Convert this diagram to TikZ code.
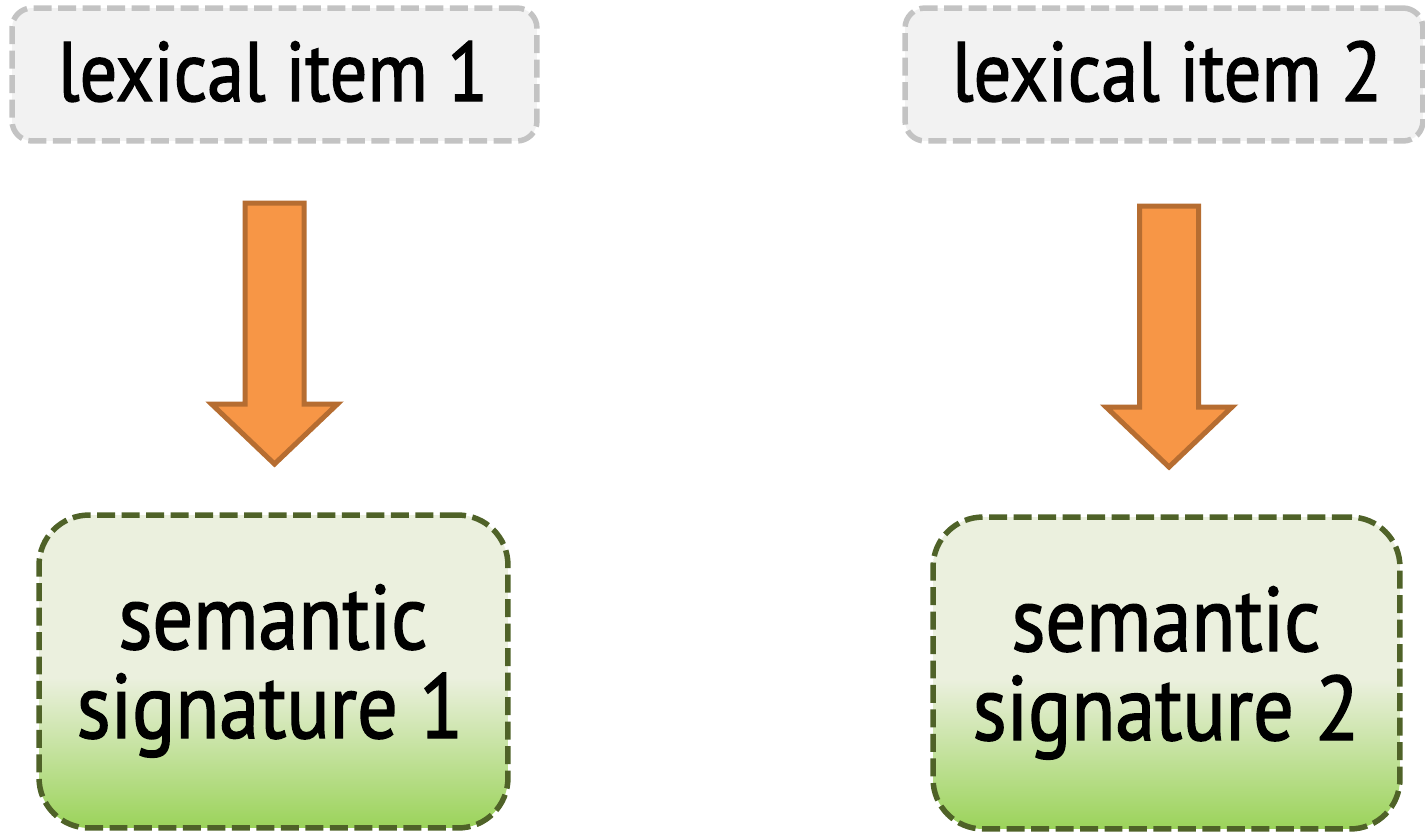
\documentclass[tikz,border=0pt]{standalone}
\usepackage{fontspec}
\setmainfont{PT Sans}[FakeStretch=0.88, FakeBold=1.6]
\usetikzlibrary{calc}
\definecolor{itemline}{HTML}{C3C3C3}
\definecolor{itemfill}{HTML}{F2F2F2}
\definecolor{arrowfill}{HTML}{F79646}
\definecolor{arrowline}{HTML}{B66D31}
\definecolor{sigline}{HTML}{4F6228}
\definecolor{sigtop}{HTML}{EBF0DE}
\definecolor{sigbot}{HTML}{9BD35A}
% light top half, green fade toward the bottom edge
\pgfdeclareverticalshading{sigfade}{100bp}{color(0bp)=(sigbot); color(25bp)=(sigbot); color(49bp)=(sigtop); color(100bp)=(sigtop)}
\tikzset{
  itembox/.style={draw=itemline, fill=itemfill, line width=0.11cm,
    dash pattern=on 0.36cm off 0.13cm, rounded corners=0.4cm,
    inner sep=0pt, minimum height=2.66cm},
  itemtext/.style={font=\fontsize{48}{58}\selectfont, anchor=base, inner sep=0pt},
  sigbox/.style={draw=sigline, shading=sigfade, line width=0.11cm,
    dash pattern=on 0.36cm off 0.13cm, rounded corners=1cm, inner sep=0pt},
  sigtext/.style={font=\fontsize{52}{50}\selectfont, anchor=base, inner sep=0pt},
  blockarrow/.style={fill=arrowfill, draw=arrowline, line width=0.1cm, line join=miter}
}
\begin{document}
\begin{tikzpicture}[x=0.02cm, y=-0.02cm]
\useasboundingbox (0,0) rectangle (1425,832);

% lexical items
\node[itembox, minimum width=10.5cm] (lex1) at (274.5,74.5) {};
\node[itembox, minimum width=10.36cm] (lex2) at (1164,74.5) {};
\node[itemtext] (lex1t) at (273,101) {lexical item 1};
\node[itemtext] (lex2t) at (1167,101) {lexical item 2};

% semantic signatures
\node[sigbox, minimum width=9.38cm, minimum height=6.26cm] (sig1) at (273.5,671.5) {};
\node[sigbox, minimum width=9.34cm, minimum height=6.24cm] (sig2) at (1166.5,673) {};
\node[sigtext] (sig1a) at (273,649) {semantic};
\node[sigtext] (sig1b) at (270,738) {signature 1};
\node[sigtext] (sig2a) at (1166,651) {semantic};
\node[sigtext] (sig2b) at (1166,740) {signature 2};

% block arrows from each lexical item down to its signature
\coordinate (a1) at (274.5,203);
\coordinate (a2) at (1169,206);
\foreach \a in {a1,a2}{
  \draw[blockarrow] (\a) ++(-29.5,0) -- ++(59,0) -- ++(0,201) -- ++(33.5,0)
    -- ++(-63,60) -- ++(-63,-60) -- ++(33.5,0) -- cycle;
}
\end{tikzpicture}
\end{document}
